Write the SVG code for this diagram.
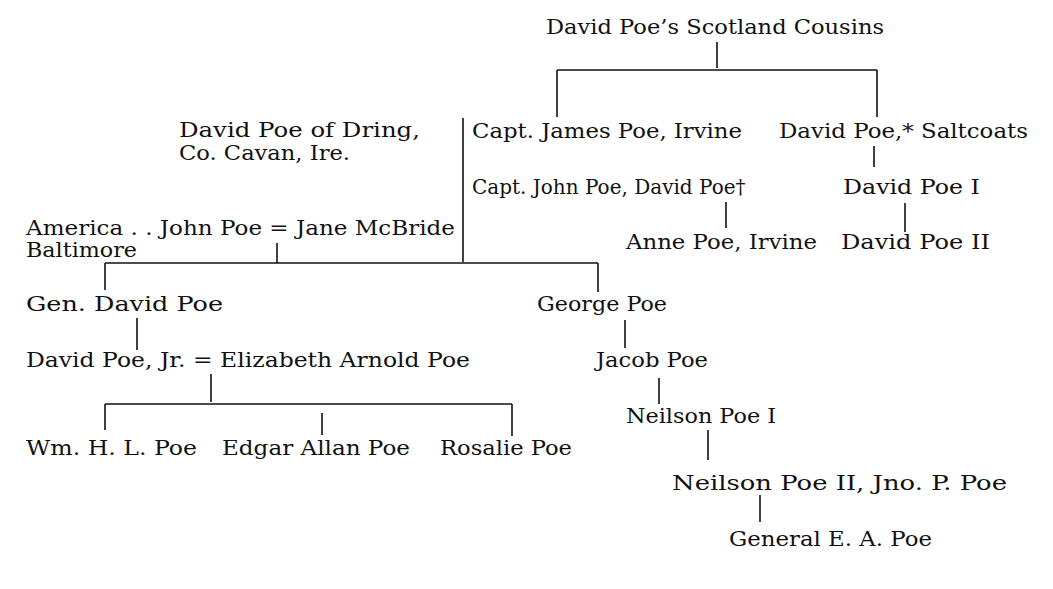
<svg xmlns="http://www.w3.org/2000/svg" width="1053" height="589" viewBox="0 0 1053 589">
<style>
text{font-family:"DejaVu Serif",serif;font-size:21px;fill:#111}
.sm{font-size:20px}
.c line{stroke:#111;stroke-width:1.6}
</style>
<rect width="1053" height="589" fill="#fff"/>
<g class="c" id="connectors">
<line x1="717" y1="42" x2="717" y2="68"/>
<line x1="557" y1="70" x2="877" y2="70"/>
<line x1="557" y1="70" x2="557" y2="117"/>
<line x1="877" y1="70" x2="877" y2="117"/>
<line x1="874" y1="146" x2="874" y2="167"/>
<line x1="726" y1="202" x2="726" y2="228"/>
<line x1="905" y1="203" x2="905" y2="232"/>
<line x1="463" y1="118" x2="463" y2="262"/>
<line x1="277" y1="243" x2="277" y2="263"/>
<line x1="105" y1="263" x2="598" y2="263"/>
<line x1="105" y1="263" x2="105" y2="290"/>
<line x1="598" y1="263" x2="598" y2="292"/>
<line x1="137" y1="318" x2="137" y2="350"/>
<line x1="625" y1="320" x2="625" y2="348"/>
<line x1="211" y1="374" x2="211" y2="402"/>
<line x1="105" y1="404" x2="512" y2="404"/>
<line x1="105" y1="404" x2="105" y2="430"/>
<line x1="322" y1="413" x2="322" y2="435"/>
<line x1="512" y1="404" x2="512" y2="436"/>
<line x1="659" y1="378" x2="659" y2="404"/>
<line x1="708" y1="430" x2="708" y2="460"/>
<line x1="760" y1="495" x2="760" y2="522"/>
</g>
<g id="cousins"><text x="546" y="34" textLength="338" lengthAdjust="spacingAndGlyphs">David Poe’s Scotland Cousins</text></g>
<g id="james"><text x="472" y="138" textLength="270" lengthAdjust="spacingAndGlyphs">Capt. James Poe, Irvine</text></g>
<g id="saltcoats"><text x="779" y="138" textLength="249" lengthAdjust="spacingAndGlyphs">David Poe,* Saltcoats</text></g>
<g id="johncapt"><text class="sm" x="472" y="194">Capt. John Poe, David Poe†</text></g>
<g id="davidI"><text x="843" y="194" textLength="137" lengthAdjust="spacingAndGlyphs">David Poe I</text></g>
<g id="anne"><text x="626" y="249" textLength="191" lengthAdjust="spacingAndGlyphs">Anne Poe, Irvine</text></g>
<g id="davidII"><text x="841" y="249" textLength="149" lengthAdjust="spacingAndGlyphs">David Poe II</text></g>
<g id="dring"><text class="sm" x="179" y="137" textLength="241" lengthAdjust="spacingAndGlyphs">David Poe of Dring,</text><text class="sm" x="179" y="160" textLength="171" lengthAdjust="spacingAndGlyphs">Co. Cavan, Ire.</text></g>
<g id="john"><text class="sm" x="26" y="235" textLength="429" lengthAdjust="spacingAndGlyphs">America . . John Poe = Jane McBride</text><text class="sm" x="26" y="257" textLength="111" lengthAdjust="spacingAndGlyphs">Baltimore</text></g>
<g id="gendavid"><text x="26" y="311" textLength="197" lengthAdjust="spacingAndGlyphs">Gen.  David  Poe</text></g>
<g id="george"><text x="537" y="311" textLength="130" lengthAdjust="spacingAndGlyphs">George  Poe</text></g>
<g id="davidjr"><text x="26" y="367" textLength="444" lengthAdjust="spacingAndGlyphs">David Poe, Jr. = Elizabeth Arnold Poe</text></g>
<g id="jacob"><text x="596" y="367" textLength="112" lengthAdjust="spacingAndGlyphs">Jacob Poe</text></g>
<g id="neilsonI"><text x="626" y="423" textLength="150" lengthAdjust="spacingAndGlyphs">Neilson Poe I</text></g>
<g id="wm"><text x="26" y="455" textLength="171" lengthAdjust="spacingAndGlyphs">Wm. H. L. Poe</text></g>
<g id="edgar"><text x="222" y="455" textLength="188" lengthAdjust="spacingAndGlyphs">Edgar Allan Poe</text></g>
<g id="rosalie"><text x="440" y="455" textLength="132" lengthAdjust="spacingAndGlyphs">Rosalie Poe</text></g>
<g id="neilsonII"><text x="672" y="490" textLength="335" lengthAdjust="spacingAndGlyphs">Neilson Poe II, Jno. P. Poe</text></g>
<g id="generalea"><text x="729" y="546" textLength="203" lengthAdjust="spacingAndGlyphs">General E. A. Poe</text></g>
</svg>
